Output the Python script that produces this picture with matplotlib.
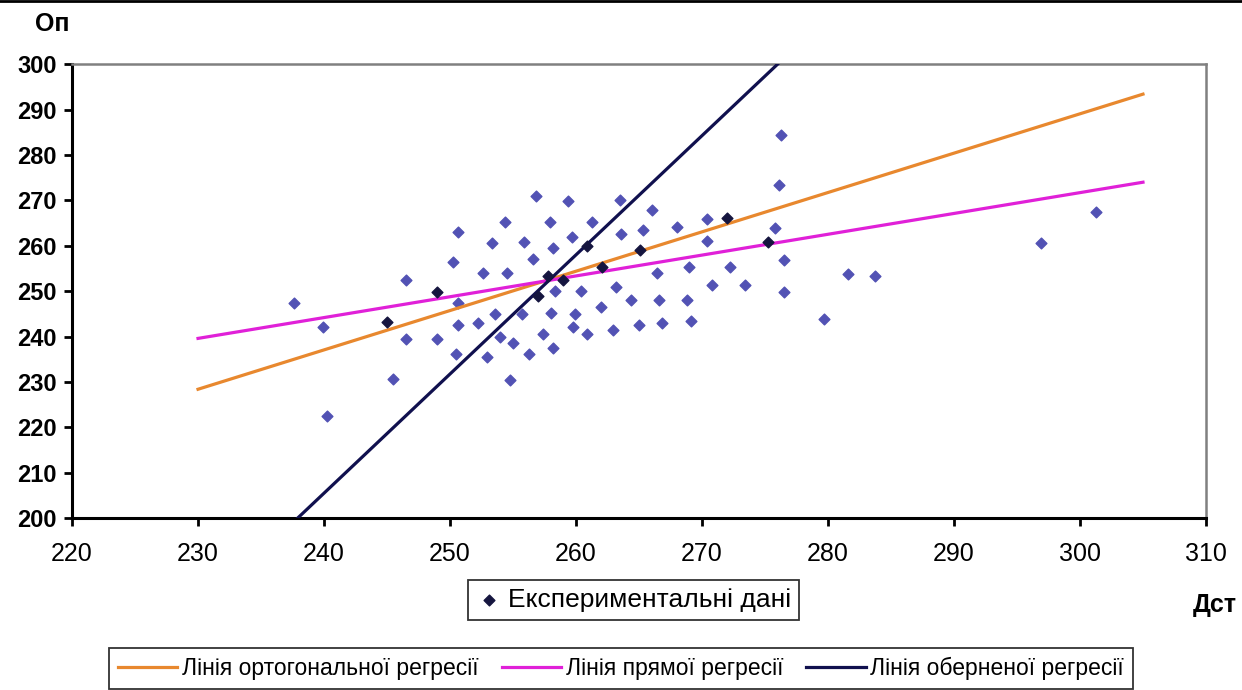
import numpy as np
import matplotlib.pyplot as plt
from matplotlib.lines import Line2D

plt.rcParams['font.family'] = ['Liberation Sans', 'DejaVu Sans']

# experimental data (Дст, Оп)
exp_x = [237.6, 239.9, 240.2, 246.5, 246.5, 249.0, 245.5, 250.2, 250.6, 250.6,
         250.6, 250.5, 252.6, 253.3, 254.4, 254.5, 252.2, 253.6, 254.0, 252.9,
         255.0, 254.8, 255.7, 255.9, 256.6, 256.8, 256.3, 257.4, 257.9, 258.2,
         258.0, 258.2, 258.3, 259.4, 259.7, 259.8, 259.9, 260.4, 260.9, 261.3,
         262.0, 262.9, 263.2, 263.5, 263.6, 264.4, 265.0, 265.3, 266.0, 266.4,
         266.6, 266.8, 268.0, 268.8, 269.0, 269.1, 270.4, 270.4, 270.8, 272.2,
         273.4, 275.8, 276.1, 276.3, 276.5, 276.5, 279.7, 281.6, 283.7, 296.9,
         301.3]
exp_y = [247.4, 242.1, 222.5, 252.4, 239.4, 239.4, 230.6, 256.4, 263.0, 247.4,
         242.5, 236.1, 254.0, 260.6, 265.2, 254.0, 243.0, 244.9, 239.9, 235.5,
         238.5, 230.4, 244.9, 260.8, 257.0, 270.9, 236.1, 240.5, 265.2, 259.5,
         245.2, 237.4, 250.0, 269.8, 261.9, 242.1, 244.9, 250.0, 240.5, 265.2,
         246.5, 241.4, 250.9, 270.0, 262.6, 248.0, 242.5, 263.4, 267.8, 254.0,
         248.0, 243.0, 264.1, 248.0, 255.3, 243.4, 265.9, 261.0, 251.3, 255.3,
         251.3, 263.9, 273.3, 284.4, 256.8, 249.8, 243.8, 253.7, 253.3, 260.6,
         267.4]
# points lying on the regression lines (drawn dark)
on_x = [245.0, 249.0, 257.8, 257.0, 260.9, 262.1, 265.1, 272.0, 275.2, 259.0]
on_y = [243.2, 249.8, 253.3, 248.9, 259.9, 255.3, 259.0, 266.1, 260.8, 252.4]

# regression lines
orth_x, orth_y = [230, 305], [228.4, 293.4]
dir_x, dir_y = [230, 305], [239.6, 274.0]
inv_x, inv_y = [237.9, 276.0], [200, 300]

fig = plt.figure(figsize=(12.42, 6.9), dpi=100)
ax = fig.add_axes([0.058, 0.249, 0.913, 0.658])

sc = ax.scatter(exp_x, exp_y, marker='D', s=30, color='#5252B4', zorder=2,
                label='Експериментальні дані')
l1, = ax.plot(orth_x, orth_y, color='#E8882E', lw=2.3, zorder=3,
              label='Лінія ортогональної регресії')
l2, = ax.plot(dir_x, dir_y, color='#E020D8', lw=2.3, zorder=3,
              label='Лінія прямої регресії')
l3, = ax.plot(inv_x, inv_y, color='#10104E', lw=2.3, zorder=3,
              label='Лінія оберненої регресії')
ax.scatter(on_x, on_y, marker='D', s=30, color='#15153F', zorder=4)

ax.set_xlim(220, 310)
ax.set_ylim(200, 300)
ax.set_xticks(np.arange(220, 311, 10))
ax.set_yticks(np.arange(200, 301, 10))

for s in ['left', 'bottom']:
    ax.spines[s].set_linewidth(2.2)
    ax.spines[s].set_color('black')
for s in ['top', 'right']:
    ax.spines[s].set_linewidth(1.8)
    ax.spines[s].set_color('#808080')

ax.tick_params(axis='both', direction='out', length=6, width=2)
ax.tick_params(axis='x', labelsize=18, pad=11)
ax.tick_params(axis='y', labelsize=17, pad=5)
for t in ax.get_yticklabels():
    t.set_fontweight('bold')

fig.text(0.028, 0.965, 'Оп', fontsize=18, fontweight='bold', ha='left', va='center')
fig.text(0.978, 0.123, 'Дст', fontsize=18, fontweight='bold', ha='center', va='center')

leg1 = fig.legend(handles=[sc], loc='center', bbox_to_anchor=(0.51, 0.13),
                  fontsize=19, frameon=True, fancybox=False, edgecolor='black',
                  handletextpad=0.2, borderpad=0.3, handlelength=1.0)
leg1.get_frame().set_linewidth(1.3)
leg1.legend_handles[0].set_color('#15153F')

leg2 = fig.legend(handles=[l1, l2, l3], loc='upper center', bbox_to_anchor=(0.5, 0.061),
                  ncol=3, fontsize=16.5, frameon=True, fancybox=False, edgecolor='black',
                  handlelength=2.6, handletextpad=0.2, columnspacing=1.0, borderpad=0.4,
                  borderaxespad=0)
leg2.get_frame().set_linewidth(1.3)

fig.add_artist(Line2D([0, 1], [0.998, 0.998], color='black', lw=2))

fig.savefig('out.png', dpi=100)
